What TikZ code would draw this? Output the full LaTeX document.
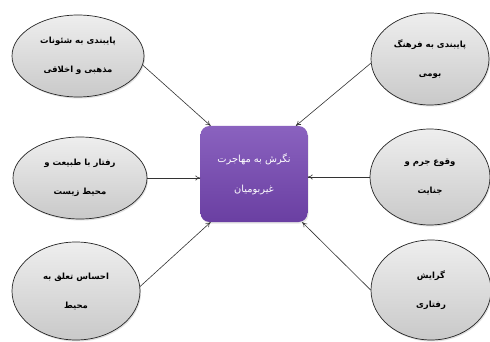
\documentclass[tikz,border=0pt]{standalone}
\usepackage{fontspec}
\newfontfamily\arabicfont[Script=Arabic]{DejaVu Sans}
\TeXXeTstate=1
\usetikzlibrary{shapes.geometric,shadows,arrows.meta}
\newcommand{\ar}[1]{\beginR #1\endR}
\definecolor{boxtop}{HTML}{8A62BF}
\definecolor{boxbot}{HTML}{6A3FA2}
\definecolor{elltop}{HTML}{EEEEEE}
\definecolor{ellbot}{HTML}{C9C9C9}
\tikzset{
  oval/.style={ellipse, draw=black!85, line width=0.7pt,
    top color=elltop, bottom color=ellbot,
    drop shadow={opacity=0.25, shadow xshift=1pt, shadow yshift=-1.5pt},
    align=center, inner sep=0pt,
    font=\arabicfont\bfseries\fontsize{8.5}{29}\selectfont},
  core/.style={rectangle, rounded corners=9pt, draw=none,
    top color=boxtop, bottom color=boxbot, text=white,
    minimum width=107pt, minimum height=96pt, align=center, inner sep=0pt,
    drop shadow={opacity=0.2, shadow xshift=1pt, shadow yshift=-1.5pt},
    font=\arabicfont\fontsize{9.8}{30}\selectfont},
  arr/.style={-{To[length=5pt,width=5pt]}, draw=black!80, line width=0.6pt}
}
\begin{document}
\begin{tikzpicture}[x=1pt,y=-1pt]
\useasboundingbox[fill=white] (0,0) rectangle (490,342);
\node[core] (box) at (254,174) {\ar{نگرش به مهاجرت}\\\ar{غیربومیان}};
\node[oval, minimum width=132pt, minimum height=82pt] (e1) at (78,56)
  {\ar{پایبندی به شئونات}\\\ar{مذهبی و اخلاقی}};
\node[oval, minimum width=118pt, minimum height=92pt] (e2) at (430,59)
  {\ar{پایبندی به فرهنگ}\\\ar{بومی}};
\node[oval, minimum width=134pt, minimum height=82pt] (e3) at (80,178)
  {\ar{رفتار با طبیعت و}\\\ar{محیط زیست}};
\node[oval, minimum width=120pt, minimum height=96pt] (e4) at (430,177)
  {\ar{وقوع جرم و}\\\ar{جنایت}};
\node[oval, minimum width=128pt, minimum height=98pt] (e5) at (76,291)
  {\ar{احساس تعلق به}\\\ar{محیط}};
\node[oval, minimum width=120pt, minimum height=100pt] (e6) at (431,290)
  {\ar{گرایش}\\\ar{رفتاری}};
\draw[arr] (e1.-8) -- (box.132);
\draw[arr] (e2.184) -- (box.49);
\draw[arr] (e3.east) -- (e3.east -| box.west);
\draw[arr] (e4.west) -- (e4.west -| box.east);
\draw[arr] (e5.4) -- (box.-132);
\draw[arr] (e6.west) -- (box.-45);
\end{tikzpicture}
\end{document}
